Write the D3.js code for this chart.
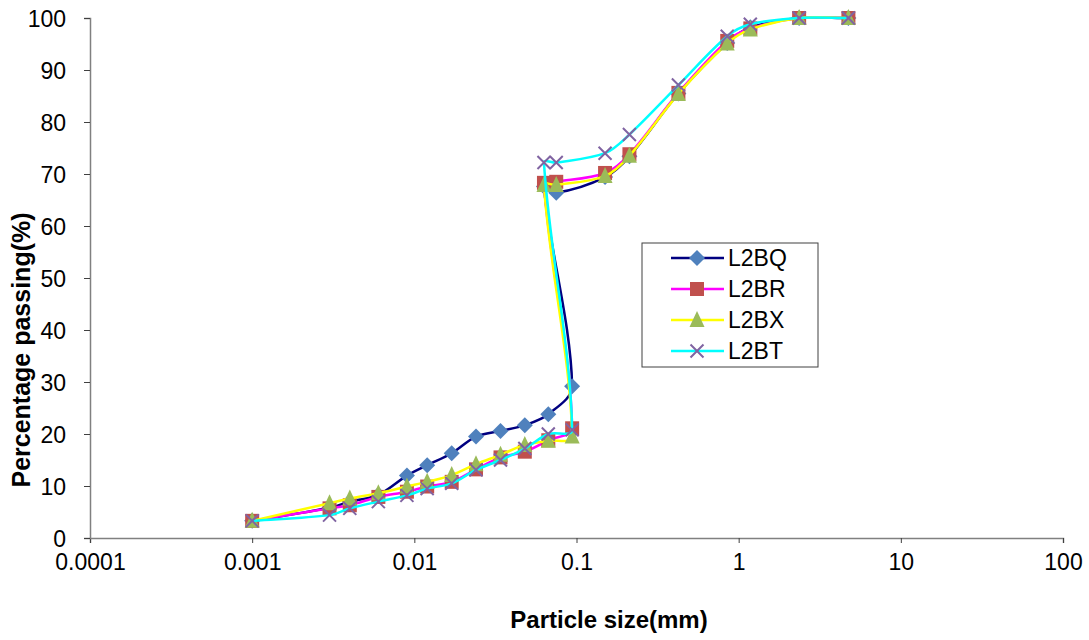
<!DOCTYPE html>
<html>
<head>
<meta charset="utf-8">
<script src="https://cdn.jsdelivr.net/npm/d3@7"></script>
<style>
  body { margin: 0; background: #fff; }
  svg { display: block; font-family: Arial, "Liberation Sans", sans-serif; }
</style>
</head>
<body>
<script>
"use strict";
(function () {
    // Particle sizes (mm), in the order the points are joined: sieve then hydrometer
    const sizes = [4.75, 2.36, 1.18, 0.85, 0.425, 0.212, 0.15, 0.075, 0.063,
        0.094, 0.067, 0.048, 0.034, 0.024, 0.017, 0.012, 0.009, 0.006, 0.004, 0.003, 0.001]

    // Percentage passing for each sample
    const l2bq = [100, 100, 98.2, 95.2, 85.5, 73.4, 69.4, 66.4, 67.6,
        29.2, 23.8, 21.7, 20.6, 19.5, 16.3, 14.0, 12.0, 8.3, 7.0, 5.8, 3.3]
    const l2br = [100, 100, 98.0, 95.6, 85.6, 73.8, 70.2, 68.5, 68.3,
        21.1, 18.8, 16.6, 15.5, 13.2, 10.8, 9.9, 8.9, 7.9, 6.3, 5.7, 3.3]
    const l2bx = [100, 100, 97.8, 95.1, 85.4, 73.5, 69.6, 67.9, 67.9,
        19.5, 18.7, 17.9, 16.0, 14.2, 12.1, 10.8, 9.9, 8.6, 7.6, 6.7, 3.3]
    const l2bt = [100, 100, 98.8, 96.5, 87.1, 77.6, 74.0, 72.2, 72.2,
        20.8, 20.0, 17.2, 15.0, 13.1, 10.5, 9.5, 8.2, 7.0, 5.7, 4.4, 3.3]

    const seriesNames = ["L2BQ", "L2BR", "L2BX", "L2BT"]
    const seriesValues = [l2bq, l2br, l2bx, l2bt]

    const xTicks = [0.0001, 0.001, 0.01, 0.1, 1, 10, 100]
    const yTicks = [0, 10, 20, 30, 40, 50, 60, 70, 80, 90, 100]

    // Look of each series
    const styles = {
        "L2BQ": { line: "#000080", marker: "#4F81BD", shape: "diamond" },
        "L2BR": { line: "#FF00FF", marker: "#C0504D", shape: "square" },
        "L2BX": { line: "#FFFF00", marker: "#9BBB59", shape: "triangle" },
        "L2BT": { line: "#00FFFF", marker: "#8064A2", shape: "cross" }
    }

    const measurements = {
        width: 1089,
        height: 640,
        left: 90,
        right: 1063,
        top: 18,
        bottom: 538
    }

    const svgContainer = d3.select("body").append("svg")
        .attr("width", measurements.width)
        .attr("height", measurements.height)

    const scaleX = d3.scaleLog()
        .domain([0.0001, 100])
        .range([measurements.left, measurements.right])

    const scaleY = d3.scaleLinear()
        .domain([0, 100])
        .range([measurements.bottom, measurements.top])

    drawAxes()
    seriesNames.forEach((name, i) => drawSeries(name, seriesValues[i]))
    drawLegend()

    // Axes, ticks and titles
    function drawAxes() {
        const xAxis = d3.axisBottom(scaleX)
            .tickValues(xTicks)
            .tickSize(5)
            .tickPadding(11)
            .tickFormat((d) => String(d))

        const yAxis = d3.axisLeft(scaleY)
            .tickValues(yTicks)
            .tickSize(6)
            .tickPadding(18)

        const gx = svgContainer.append("g")
            .attr("transform", "translate(0," + measurements.bottom + ")")
            .call(xAxis)
        const gy = svgContainer.append("g")
            .attr("transform", "translate(" + measurements.left + ",0)")
            .call(yAxis)

        for (const g of [gx, gy]) {
            g.select(".domain").attr("stroke", "#808080").attr("stroke-width", 1.5)
            g.selectAll(".tick line").attr("stroke", "#404040")
            g.selectAll(".tick text")
                .attr("fill", "#000")
                .style("font-size", "23px")
                .style("font-family", "Arial, 'Liberation Sans', sans-serif")
        }
        gy.selectAll(".tick text").attr("dy", "0.36em")

        svgContainer.append("text")
            .attr("text-anchor", "middle")
            .attr("transform", "translate(30,350)rotate(-90)")
            .style("font-size", "25px")
            .style("font-weight", "bold")
            .text("Percentage passing(%)")

        svgContainer.append("text")
            .attr("text-anchor", "middle")
            .attr("x", 609)
            .attr("y", 628)
            .style("font-size", "24px")
            .style("font-weight", "bold")
            .text("Particle size(mm)")
    }

    // Smoothed line like the spreadsheet: Bezier pieces, tangents scaled by chord length
    function smoothPath(pts) {
        const p = d3.path()
        const n = pts.length
        const dist = (a, b) => Math.hypot(b[0] - a[0], b[1] - a[1])
        p.moveTo(pts[0][0], pts[0][1])
        for (let i = 0; i < n - 1; i++) {
            const p0 = pts[Math.max(i - 1, 0)]
            const p1 = pts[i]
            const p2 = pts[i + 1]
            const p3 = pts[Math.min(i + 2, n - 1)]
            const d01 = dist(p0, p1), d12 = dist(p1, p2), d23 = dist(p2, p3)
            const f1 = d01 + d12 > 0 ? d12 / (d01 + d12) / 3 : 0
            const f2 = d12 + d23 > 0 ? d12 / (d12 + d23) / 3 : 0
            p.bezierCurveTo(
                p1[0] + (p2[0] - p0[0]) * f1, p1[1] + (p2[1] - p0[1]) * f1,
                p2[0] - (p3[0] - p1[0]) * f2, p2[1] - (p3[1] - p1[1]) * f2,
                p2[0], p2[1])
        }
        return p.toString()
    }

    // Marker shapes like the spreadsheet ones
    function markerPath(shape) {
        if (shape === "diamond") return "M0,-8L8,0L0,8L-8,0Z"
        if (shape === "square") return "M-7,-7H7V7H-7Z"
        if (shape === "triangle") return "M0,-9L7.5,7H-7.5Z"
        return "M-6.5,-6.5L6.5,6.5M6.5,-6.5L-6.5,6.5"
    }

    function drawMarker(g, shape, color) {
        const p = g.append("path").attr("d", markerPath(shape))
        if (shape === "cross") {
            p.attr("fill", "none").attr("stroke", color).attr("stroke-width", 2)
        } else {
            p.attr("fill", color)
        }
        return p
    }

    // One line plus its markers
    function drawSeries(name, values) {
        const st = styles[name]
        const points = sizes.map((s, i) => [scaleX(s), scaleY(values[i])])

        svgContainer.append("path")
            .attr("d", smoothPath(points))
            .attr("fill", "none")
            .attr("stroke", st.line)
            .attr("stroke-width", 2.5)

        const marks = svgContainer.append("g")
        points.forEach((d) => {
            const g = marks.append("g")
                .attr("transform", "translate(" + d[0] + "," + d[1] + ")")
            drawMarker(g, st.shape, st.marker)
        })
    }

    // Legend box
    function drawLegend() {
        const legend = svgContainer.append("g")
            .attr("transform", "translate(642,243)")

        legend.append("rect")
            .attr("width", 176)
            .attr("height", 124)
            .attr("fill", "#fff")
            .attr("stroke", "#404040")
            .attr("stroke-width", 1)

        seriesNames.forEach((name, i) => {
            const st = styles[name]
            const row = legend.append("g")
                .attr("transform", "translate(0," + (15 + i * 31) + ")")
            row.append("line")
                .attr("x1", 29).attr("x2", 82)
                .attr("stroke", st.line)
                .attr("stroke-width", 2.5)
            const m = row.append("g").attr("transform", "translate(55,0)")
            drawMarker(m, st.shape, st.marker)
            row.append("text")
                .attr("x", 86)
                .attr("dy", "0.36em")
                .style("font-size", "23px")
                .text(name)
        })
    }
})()
</script>
</body>
</html>
